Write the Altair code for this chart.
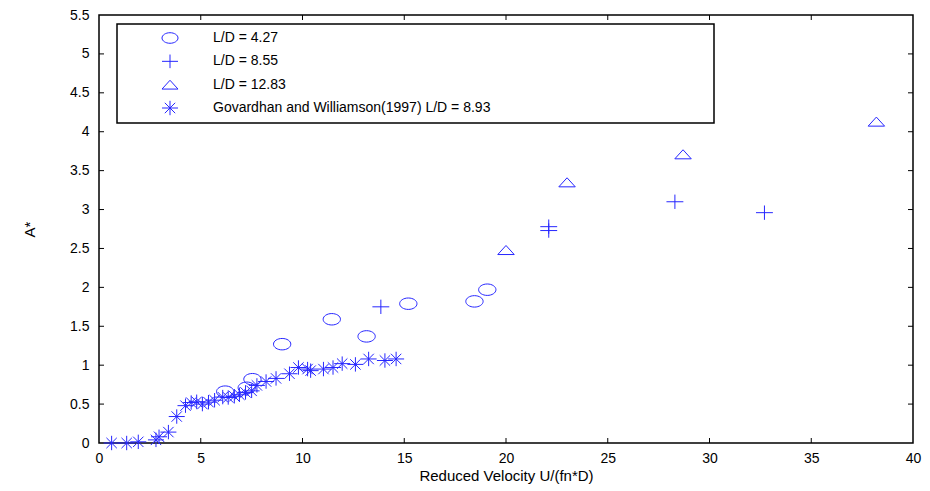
import altair as alt
import pandas as pd

# ---- data ----
series_names = [
    "L/D = 4.27",
    "L/D = 8.55",
    "L/D = 12.83",
    "Govardhan and Williamson(1997) L/D = 8.93",
]

ld427_x = [6.2, 7.26, 7.54, 9.0, 11.44, 13.15, 15.2, 18.45, 19.08]
ld427_y = [0.66, 0.71, 0.82, 1.27, 1.59, 1.37, 1.79, 1.82, 1.97]

ld855_x = [13.85, 22.1, 22.1, 28.3, 32.7]
ld855_y = [1.75, 2.78, 2.73, 3.10, 2.96]

ld1283_x = [20.0, 23.0, 28.7, 38.2]
ld1283_y = [2.48, 3.35, 3.71, 4.13]

gw_x = [0.62, 1.36, 1.93, 2.8, 2.95, 3.41, 3.82, 4.25, 4.53, 4.8, 5.08, 5.38,
        5.68, 6.08, 6.35, 6.65, 6.9, 7.2, 7.5, 7.76, 8.21, 8.7, 9.36, 9.8,
        10.25, 10.4, 11.03, 11.5, 11.95, 12.6, 13.25, 14.05, 14.6]
gw_y = [0.0, 0.0, 0.015, 0.04, 0.08, 0.14, 0.34, 0.48, 0.52, 0.53, 0.50, 0.525,
        0.55, 0.59, 0.585, 0.60, 0.62, 0.65, 0.67, 0.74, 0.79, 0.83, 0.89, 0.97,
        0.95, 0.93, 0.95, 0.97, 1.02, 1.01, 1.08, 1.06, 1.08]

x_ticks = [0, 5, 10, 15, 20, 25, 30, 35, 40]
y_ticks = [0, 0.5, 1, 1.5, 2, 2.5, 3, 3.5, 4, 4.5, 5, 5.5]

# ---- tables ----
rows = []
for name, xs, ys in zip(series_names,
                        [ld427_x, ld855_x, ld1283_x, gw_x],
                        [ld427_y, ld855_y, ld1283_y, gw_y]):
    for a, b in zip(xs, ys):
        rows.append({"x": a, "y": b, "series": name})
df = pd.DataFrame(rows)
leg_df = pd.DataFrame({"series": series_names})
xt = pd.DataFrame({"x": x_ticks[1:-1]})
yt = pd.DataFrame({"y": y_ticks[1:-1]})

BLUE = "#2626ff"
FONT = "Liberation Sans"
W, H = 814, 428

ellipse = "M -1 0 A 1 0.66 0 1 0 1 0 A 1 0.66 0 1 0 -1 0 Z"
plus = "M -1 0 L 1 0 M 0 -0.85 L 0 0.85"
triangle = "M -1 0.55 L 0 -0.55 L 1 0.55 Z"
asterisk = "M -1 0 L 1 0 M 0 -0.9 L 0 0.9 M -0.65 -0.65 L 0.65 0.65 M -0.65 0.65 L 0.65 -0.65"

shape_scale = alt.Scale(domain=series_names, range=[ellipse, plus, triangle, asterisk])
size_scale = alt.Scale(domain=series_names, range=[300, 256, 420, 150])

xs = alt.Scale(domain=[0, 40], nice=False, zero=False)
ys = alt.Scale(domain=[0, 5.5], nice=False, zero=False)
x_axis = alt.Axis(values=x_ticks, format="~g", title="Reduced Velocity U/(fn*D)",
                  labelPadding=8, titlePadding=3, labelFlush=False)
y_axis = alt.Axis(values=y_ticks, format="~g", title="A*", labelPadding=10,
                  titlePadding=32, labelFlush=False)

X = alt.X("x:Q", scale=xs, axis=x_axis)
Y = alt.Y("y:Q", scale=ys, axis=y_axis)

frame = alt.Chart(alt.Data(values=[{"a": 1}])).mark_rect(
    fillOpacity=0, stroke="black", strokeWidth=1.5
).encode(x=alt.value(18), x2=alt.value(615), y=alt.value(9), y2=alt.value(108))

tick_bottom = alt.Chart(xt).mark_rule(color="black").encode(
    x=X, y=alt.value(H), y2=alt.value(H - 5))
tick_top = alt.Chart(xt).mark_rule(color="black").encode(
    x=X, y=alt.value(0), y2=alt.value(5))
tick_left = alt.Chart(yt).mark_rule(color="black").encode(
    y=Y, x=alt.value(0), x2=alt.value(5))
tick_right = alt.Chart(yt).mark_rule(color="black").encode(
    y=Y, x=alt.value(W - 5), x2=alt.value(W))

points = alt.Chart(df).mark_point(filled=False, strokeWidth=1, color=BLUE, opacity=1).encode(
    x=X, y=Y,
    shape=alt.Shape("series:N", scale=shape_scale, legend=None),
    size=alt.Size("series:N", scale=size_scale, legend=None),
)

base = alt.layer(tick_bottom, tick_top, tick_left, tick_right, points)

# legend drawn as its own layer with a point scale for the rows
LY = alt.Y("series:N", scale=alt.Scale(domain=series_names, range=[23, 93], padding=0),
           axis=None)
leg_pts = alt.Chart(leg_df).mark_point(filled=False, strokeWidth=1, color=BLUE,
                                       opacity=1, size=256).encode(
    x=alt.value(71), y=LY,
    shape=alt.Shape("series:N", scale=shape_scale, legend=None),
)
leg_txt = alt.Chart(leg_df).mark_text(align="left", baseline="middle", font=FONT,
                                      fontSize=14, color="black").encode(
    x=alt.value(114), y=LY, text="series:N",
)
legend = alt.layer(frame, leg_pts, leg_txt)

chart = alt.layer(base, legend).resolve_scale(y="independent").properties(
    width=W, height=H,
    padding={"left": 99, "top": 15, "right": 17, "bottom": 48},
    autosize=alt.AutoSizeParams(type="none"),
    background="white",
).configure_view(stroke="black", strokeWidth=1.5).configure_axis(
    labelFont=FONT, labelFontSize=14, labelColor="black",
    titleFont=FONT, titleFontSize=15, titleFontWeight="normal", titleColor="black",
    domain=False, ticks=False, grid=False,
)

chart.save("out.html", embed_options={"renderer": "svg", "actions": False})
